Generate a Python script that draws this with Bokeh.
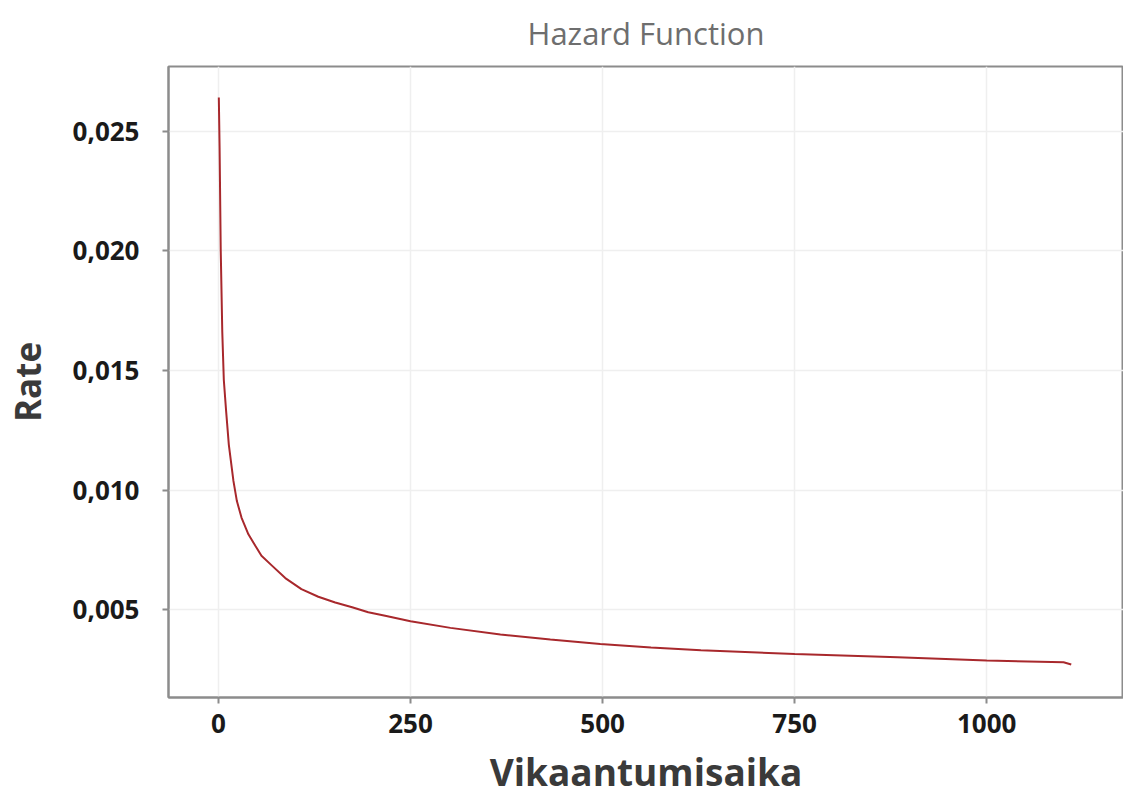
from bokeh.plotting import figure
from bokeh.models import Range1d, FixedTicker, CustomJSTickFormatter
from bokeh.embed import file_html
from bokeh.resources import INLINE

# Data
time = [0.5, 1.5, 3, 5, 7, 10, 13.5, 19.5, 24, 30, 39, 48, 56, 70, 87, 108, 130,
        152, 174, 195, 217, 250, 302, 367, 432, 497, 563, 628, 750, 884, 1000,
        1100, 1110]
rate = [0.0264, 0.0243, 0.0200, 0.0166, 0.0146, 0.0133, 0.0119, 0.01038, 0.00954,
        0.00885, 0.00815, 0.00767, 0.00725, 0.00683, 0.00632, 0.00586, 0.00554,
        0.00530, 0.00510, 0.00489, 0.00475, 0.00452, 0.00424, 0.00396, 0.00375,
        0.00357, 0.00342, 0.00330, 0.00315, 0.00301, 0.00288, 0.00280, 0.00271]
x_ticks = [0, 250, 500, 750, 1000]
y_ticks = [0.005, 0.010, 0.015, 0.020, 0.025]

p = figure(width=1123, height=801, output_backend="svg", toolbar_location=None,
           x_range=Range1d(-65, 1178), y_range=Range1d(0.00133, 0.0277),
           title="Hazard Function",
           min_border_left=168, min_border_right=0, min_border_top=66,
           min_border_bottom=104)

p.title.align = "center"
p.title.vertical_align = "top"
p.title.text_font = "Open Sans"
p.title.text_font_size = "31px"
p.title.text_font_style = "normal"
p.title.text_color = "#6e6e6e"
p.title.text_line_height = 0.7
p.title.standoff = 22

p.line(time, rate, line_color="#a8282c", line_width=2)

p.outline_line_color = "#8c8c8c"
p.outline_line_width = 2

for ax in (p.xaxis[0], p.yaxis[0]):
    ax.axis_line_color = "#8c8c8c"
    ax.axis_line_width = 2
    ax.major_tick_line_color = "#8c8c8c"
    ax.major_tick_line_width = 2
    ax.major_tick_out = 6
    ax.major_tick_in = 0
    ax.minor_tick_line_color = None
    ax.major_label_text_font = "Open Sans"
    ax.major_label_text_font_style = "bold"
    ax.major_label_text_color = "#1a1a1a"
    ax.axis_label_text_font = "Open Sans"
    ax.axis_label_text_font_style = "bold"
    ax.axis_label_text_color = "#3a3a3a"

p.xaxis.ticker = FixedTicker(ticks=x_ticks)
p.yaxis.ticker = FixedTicker(ticks=y_ticks)
p.yaxis.formatter = CustomJSTickFormatter(code="return tick.toFixed(3).replace('.', ',');")

p.xaxis.axis_label = "Vikaantumisaika"
p.xaxis.axis_label_text_font_size = "37px"
p.xaxis.major_label_text_font_size = "26px"
p.xaxis.major_label_standoff = 10
p.xaxis.axis_label_standoff = 10

p.yaxis.axis_label = "Rate"
p.yaxis.axis_label_text_font_size = "35px"
p.yaxis.major_label_text_font_size = "26px"
p.yaxis.major_label_standoff = 23
p.yaxis.axis_label_standoff = 19

p.xgrid.ticker = FixedTicker(ticks=x_ticks)
p.ygrid.ticker = FixedTicker(ticks=y_ticks)
p.grid.grid_line_color = "#efefef"
p.grid.grid_line_width = 1.5

p.background_fill_color = "white"
p.border_fill_color = "white"

open("out.html", "w").write(file_html(p, INLINE))
